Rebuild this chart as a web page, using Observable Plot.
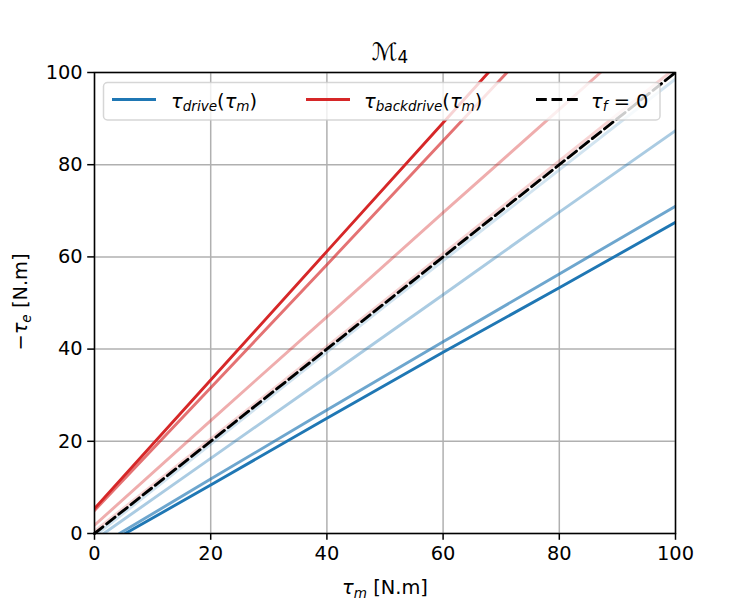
<!DOCTYPE html>
<html><head><meta charset="utf-8">
<script src="https://cdn.jsdelivr.net/npm/d3@7"></script>
<script src="https://cdn.jsdelivr.net/npm/@observablehq/plot@0.6"></script>
<style>body{margin:0;background:#fff;}</style>
</head><body><div id="chart"></div>
<script>
// ticks
const xTicks = [0, 20, 40, 60, 80, 100];
const yTicks = [0, 20, 40, 60, 80, 100];

// colours / opacities of the four cases (darkest first)
const blue = "#1f77b4";
const red = "#d62728";
const alphas = [1, 0.65, 0.38, 0.2];

// tau_drive(tau_m) curves
const drive1X = [5.3, 20, 40, 60, 80, 100];
const drive1Y = [0, 10.5, 25.0, 39.3, 53.3, 67.5];
const drive2X = [4.3, 20, 40, 60, 80, 100];
const drive2Y = [0, 11.8, 26.8, 41.6, 56.3, 71.0];
const drive3X = [1.6, 20, 40, 60, 80, 100];
const drive3Y = [0, 16.3, 34.0, 51.8, 69.7, 87.4];
const drive4X = [0.6, 50, 100];
const drive4Y = [0, 49.3, 98.6];

// tau_backdrive(tau_m) curves
const back1X = [0, 20, 40, 60, 67.8];
const back1Y = [5.4, 33.3, 61.2, 89.1, 100];
const back2X = [0, 20, 40, 60, 71.0];
const back2Y = [5.0, 31.6, 58.3, 85.2, 100];
const back3X = [0, 20, 40, 60, 80, 87.1];
const back3Y = [1.8, 24.5, 47.0, 69.6, 92.0, 100];
const back4X = [0, 50, 99];
const back4Y = [0.5, 50.6, 100];

// tau_f = 0 reference
const refX = [0, 100];
const refY = [0, 100];

const toRows = (xs, ys) => xs.map((x, i) => ({x, y: ys[i]}));

const driveSeries = [[drive1X, drive1Y], [drive2X, drive2Y], [drive3X, drive3Y], [drive4X, drive4Y]];
const backSeries = [[back1X, back1Y], [back2X, back2Y], [back3X, back3Y], [back4X, back4Y]];

const LW = 2.9;
const lineMarks = [];
driveSeries.forEach(([xs, ys], i) => {
  lineMarks.push(Plot.line(toRows(xs, ys), {x: "x", y: "y", stroke: blue, strokeOpacity: alphas[i], strokeWidth: LW, clip: true}));
});
backSeries.forEach(([xs, ys], i) => {
  lineMarks.push(Plot.line(toRows(xs, ys), {x: "x", y: "y", stroke: red, strokeOpacity: alphas[i], strokeWidth: LW, clip: true}));
});

const chart = Plot.plot({
  width: 750, height: 600,
  marginLeft: 94, marginRight: 75, marginTop: 72, marginBottom: 67,
  x: {domain: [0, 100]},
  y: {domain: [0, 100]},
  style: {fontFamily: "DejaVu Sans", color: "black", background: "white"},
  marks: [
    Plot.gridX(xTicks, {stroke: "#b0b0b0", strokeOpacity: 1, strokeWidth: 1.5}),
    Plot.gridY(yTicks, {stroke: "#b0b0b0", strokeOpacity: 1, strokeWidth: 1.5}),
    ...lineMarks,
    Plot.line(toRows(refX, refY), {x: "x", y: "y", stroke: "black", strokeWidth: LW, strokeDasharray: "10.8,4.7"}),
    Plot.frame({stroke: "black", strokeWidth: 1.5}),
    Plot.axisX(xTicks, {tickSize: 6.8, tickPadding: 6, label: null, strokeWidth: 1.5}),
    Plot.axisY(yTicks, {tickSize: 6.8, tickPadding: 5, label: null, strokeWidth: 1.5})
  ]
});
document.getElementById("chart").appendChild(chart);

const svg = d3.select(chart);
const font = "DejaVu Sans";
const FS = 19.4;

// tick label font
svg.selectAll("g[aria-label='x-axis tick label'] text, g[aria-label='y-axis tick label'] text")
  .style("font-size", FS + "px").style("font-family", font);

// helper for math-like text: parts = [[text, italic, sub]]
function mathText(g, parts, size, anchor, subSize = 0.7, drop = 0.2) {
  const t = g.append("text").style("font-family", font).style("font-size", size + "px")
    .attr("fill", "black").attr("text-anchor", anchor);
  let shifted = false;
  parts.forEach(([s, it, sub]) => {
    const sp = t.append("tspan").text(s)
      .style("font-style", it ? "italic" : "normal")
      .style("font-size", (sub ? size * subSize : size) + "px");
    if (sub && !shifted) { sp.attr("dy", size * drop); shifted = true; }
    else if (!sub && shifted) { sp.attr("dy", -size * drop); shifted = false; }
  });
  return t;
}

// title
const tg = svg.append("g");
mathText(tg, [["ℳ", true, false], ["4", false, true]], 24, "middle", 0.7, 0.16)
  .attr("x", 390).attr("y", 59.5);

// x label
const xg = svg.append("g");
mathText(xg, [["τ", true, false], ["m", true, true], [" [N.m]", false, false]], FS, "middle")
  .attr("x", 385).attr("y", 594);

// y label
const yg = svg.append("g").attr("transform", "translate(27,302) rotate(-90)");
mathText(yg, [["−", false, false], ["τ", true, false], ["e", true, true], [" [N.m]", false, false]], FS, "middle")
  .attr("x", 0).attr("y", 0);

// legend
const lg = svg.append("g");
lg.append("rect").attr("x", 103.5).attr("y", 82.5).attr("width", 556.5).attr("height", 37.5)
  .attr("rx", 4).attr("fill", "white").attr("fill-opacity", 0.8)
  .attr("stroke", "#cccccc").attr("stroke-opacity", 0.8).attr("stroke-width", 1.5);
const ly = 99.5;
lg.append("line").attr("x1", 112).attr("x2", 156).attr("y1", ly).attr("y2", ly).attr("stroke", blue).attr("stroke-width", LW);
mathText(lg, [["τ", true, false], ["drive", true, true], ["(", false, false], ["τ", true, false], ["m", true, true], [")", false, false]], FS, "start")
  .attr("x", 171).attr("y", ly + 8);
lg.append("line").attr("x1", 306).attr("x2", 350).attr("y1", ly).attr("y2", ly).attr("stroke", red).attr("stroke-width", LW);
mathText(lg, [["τ", true, false], ["backdrive", true, true], ["(", false, false], ["τ", true, false], ["m", true, true], [")", false, false]], FS, "start")
  .attr("x", 364).attr("y", ly + 8);
lg.append("line").attr("x1", 536).attr("x2", 580).attr("y1", ly).attr("y2", ly).attr("stroke", "black").attr("stroke-width", LW).attr("stroke-dasharray", "10.8,4.7");
mathText(lg, [["τ", true, false], ["f", true, true], [" = 0", false, false]], FS, "start")
  .attr("x", 591).attr("y", ly + 8);
</script>
</body></html>
